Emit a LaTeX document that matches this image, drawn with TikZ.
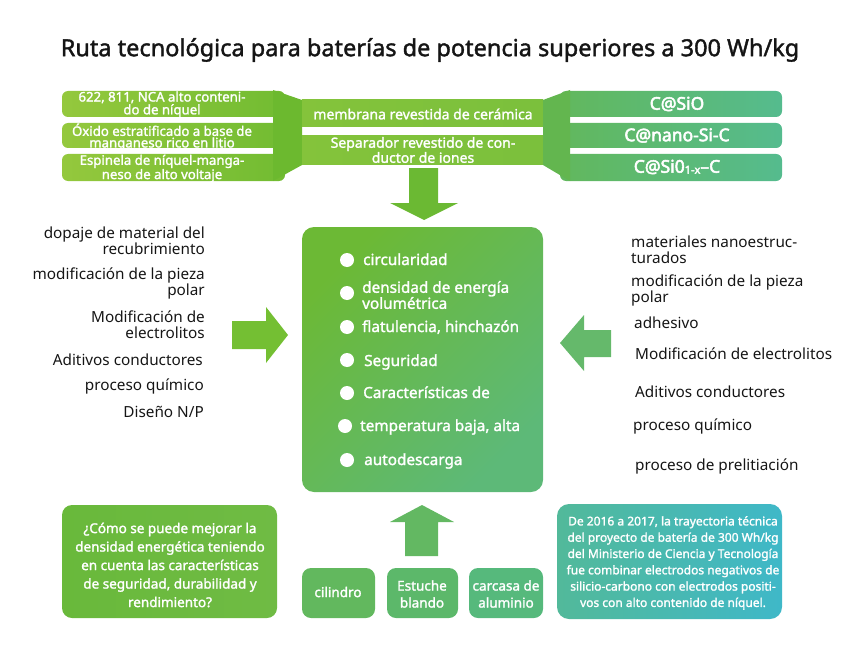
\documentclass[tikz,border=0pt]{standalone}
\usepackage{fontspec}
\setmainfont{Noto Sans}
\newfontfamily\wf{Noto Sans}[FakeBold=1.6]
\newfontfamily\hf{Noto Sans}[FakeBold=3]
\definecolor{lbL}{HTML}{94C83D}
\definecolor{lbR}{HTML}{72BC32}
\definecolor{ltrap}{HTML}{6CB92F}
\definecolor{mbL}{HTML}{84C33B}
\definecolor{mbR}{HTML}{7BC03C}
\definecolor{rtrap}{HTML}{63B64F}
\definecolor{rbL}{HTML}{62B85D}
\definecolor{rbR}{HTML}{55BB8E}
\definecolor{darrowc}{HTML}{6BB933}
\definecolor{cbA}{HTML}{6CB935}
\definecolor{cbB}{HTML}{5DB978}
\definecolor{larrowc}{HTML}{74BF33}
\definecolor{rarrowc}{HTML}{65B96B}
\definecolor{uarrowc}{HTML}{63B862}
\definecolor{blA}{HTML}{69B93B}
\definecolor{blB}{HTML}{6FBB44}
\definecolor{cilc}{HTML}{62B85E}
\definecolor{estc}{HTML}{5CB86A}
\definecolor{carc}{HTML}{56B97C}
\definecolor{brA}{HTML}{52B99A}
\definecolor{brB}{HTML}{3FB8C8}
\definecolor{ink}{HTML}{151515}
\begin{document}
\begin{tikzpicture}[x=1pt,y=-1pt,
  wtxt/.style={inner sep=0pt,text=white,font=\wf},
  btxt/.style={inner sep=0pt,text=ink,font=\fontsize{15.3}{16}\selectfont},
  ctxt/.style={wtxt,font=\wf\fontsize{15.3}{16}\selectfont,align=left},
  bartxt/.style={wtxt,font=\wf\fontsize{13.2}{11.6}\selectfont,align=center},
  smallbox/.style={rounded corners=9},
]
\useasboundingbox (0,0) rectangle (842,671);

% title
\node[inner sep=0pt,text=ink,font=\wf\fontsize{23.5}{26}\selectfont] (title) at (430,50) {Ruta tecnológica para baterías de potencia superiores a 300 Wh/kg};

% left bars
\foreach \ya/\yb in {91/117,123/148,154/181}
  \shade[left color=lbL,right color=lbR,rounded corners=6] (62,\ya) rectangle (285,\yb);
\fill[ltrap] (273,90) -- (302,100) -- (302,165) -- (273,181) -- cycle;
% middle band
\shade[left color=mbL,right color=mbR] (302,100) rectangle (543,127);
\shade[left color=mbL,right color=mbR] (302,136) rectangle (543,165);
% right bars
\foreach \ya/\yb in {91/117,123/148,154/181}
  \shade[left color=rbL,right color=rbR,rounded corners=6] (560,\ya) rectangle (782,\yb);
\fill[rtrap] (543,100) -- (570,90) -- (570,181) -- (543,165) -- cycle;

\node[bartxt] (l1) at (162,104.5) {622, 811, NCA alto conteni-\\do de níquel};
\node[bartxt] (l2) at (162,137) {Óxido estratificado a base de\\manganeso rico en litio};
\node[bartxt] (l3) at (162,168.5) {Espinela de níquel-manga-\\neso de alto voltaje};
\node[wtxt,font=\wf\fontsize{14}{14}\selectfont] (m1) at (423,114) {membrana revestida de cerámica};
\node[bartxt,font=\wf\fontsize{14}{11.6}\selectfont] (m2) at (423,150) {Separador revestido de con-\\ductor de iones};
\node[wtxt,font=\hf\fontsize{17.5}{18}\selectfont] (r1) at (677,104) {C@SiO};
\node[wtxt,font=\hf\fontsize{17.5}{18}\selectfont] (r2) at (677,135.5) {C@nano-Si-C};
\node[wtxt,font=\hf\fontsize{17.5}{18}\selectfont] (r3) at (677,167) {C@Si0\raisebox{-1pt}{\fontsize{11}{11}\selectfont 1-x}–C};

% down arrow
\fill[darrowc] (409,168) -- (438,168) -- (438,203) -- (458,203) -- (424,220) -- (390,203) -- (409,203) -- cycle;

% central box
\shade[rounded corners=12,top color=cbA,bottom color=cbB,shading angle=45] (302,227) rectangle (543,492);
\foreach \yy/\xx in {260/347,293/347,327/347,360/347,393/347,426/345,460/347}
  \fill[white] (\xx,\yy) circle (7);
\node[ctxt,anchor=base west] (c1) at (363,265) {circularidad};
\node[ctxt,anchor=west] (c2) at (362,295) {densidad de energía\\volumétrica};
\node[ctxt,anchor=base west] (c3) at (362,332) {flatulencia, hinchazón};
\node[ctxt,anchor=base west] (c4) at (364,366) {Seguridad};
\node[ctxt,anchor=base west] (c5) at (363,398) {Características de};
\node[ctxt,anchor=base west] (c6) at (360,431) {temperatura baja, alta};
\node[ctxt,anchor=base west] (c7) at (364,465) {autodescarga};

% left texts
\node[btxt,align=right,anchor=east] (a1) at (205,240.5) {dopaje de material del\\recubrimiento};
\node[btxt,align=right,anchor=east] (a2) at (205,283.5) {modificación de la pieza\\polar};
\node[btxt,align=right,anchor=east] (a3) at (205,325) {Modificación de\\electrolitos};
\node[btxt,anchor=base east] (a4) at (203,365) {Aditivos conductores};
\node[btxt,anchor=base east] (a5) at (204,390) {proceso químico};
\node[btxt,anchor=base east] (a6) at (204,417) {Diseño N/P};

% left arrow
\fill[larrowc] (232,321) -- (266,321) -- (266,307) -- (288,335) -- (266,363) -- (266,349) -- (232,349) -- cycle;
% right arrow
\fill[rarrowc] (611,330) -- (584,330) -- (584,315) -- (560,343) -- (584,371) -- (584,357) -- (611,357) -- cycle;

% right texts
\node[btxt,align=left,anchor=west] (b1) at (631,249.5) {materiales nanoestruc-\\turados};
\node[btxt,align=left,anchor=west] (b2) at (631,290) {modificación de la pieza\\polar};
\node[btxt,anchor=base west] (b3) at (634,328) {adhesivo};
\node[btxt,anchor=base west] (b4) at (635,359) {Modificación de electrolitos};
\node[btxt,anchor=base west] (b5) at (635,397) {Aditivos conductores};
\node[btxt,anchor=base west] (b6) at (633,430) {proceso químico};
\node[btxt,anchor=base west] (b7) at (635,470) {proceso de prelitiación};

% bottom left box
\shade[rounded corners=10,left color=blA,right color=blB] (62,505) rectangle (277,618);
\node[wtxt,font=\wf\fontsize{13.5}{18.5}\selectfont,align=center] (q) at (170,565) {¿Cómo se puede mejorar la\\densidad energética teniendo\\en cuenta las características\\de seguridad, durabilidad y\\rendimiento?};

% up arrow
\fill[uarrowc] (405,556) -- (438,556) -- (438,522) -- (454,522) -- (422,505) -- (390,522) -- (405,522) -- cycle;

% bottom small boxes
\fill[cilc,smallbox] (302,568) rectangle (375,618);
\fill[estc,smallbox] (387,568) rectangle (458,618);
\fill[carc,smallbox] (469,568) rectangle (543,618);
\node[wtxt,font=\wf\fontsize{13.5}{17}\selectfont] (k1) at (338,592) {cilindro};
\node[wtxt,font=\wf\fontsize{13.5}{17}\selectfont,align=center] (k2) at (422,594) {Estuche\\blando};
\node[wtxt,font=\wf\fontsize{13.5}{17}\selectfont,align=center] (k3) at (506,594) {carcasa de\\aluminio};

% bottom right box
\shade[rounded corners=12,left color=brA,right color=brB] (557,504) rectangle (782,619);
\node[wtxt,font=\wf\fontsize{12}{16.3}\selectfont,align=center] (h) at (673,563) {De 2016 a 2017, la trayectoria técnica\\del proyecto de batería de 300 Wh/kg\\del Ministerio de Ciencia y Tecnología\\fue combinar electrodos negativos de\\silicio-carbono con electrodos positi-\\vos con alto contenido de níquel.};
\end{tikzpicture}
\end{document}
